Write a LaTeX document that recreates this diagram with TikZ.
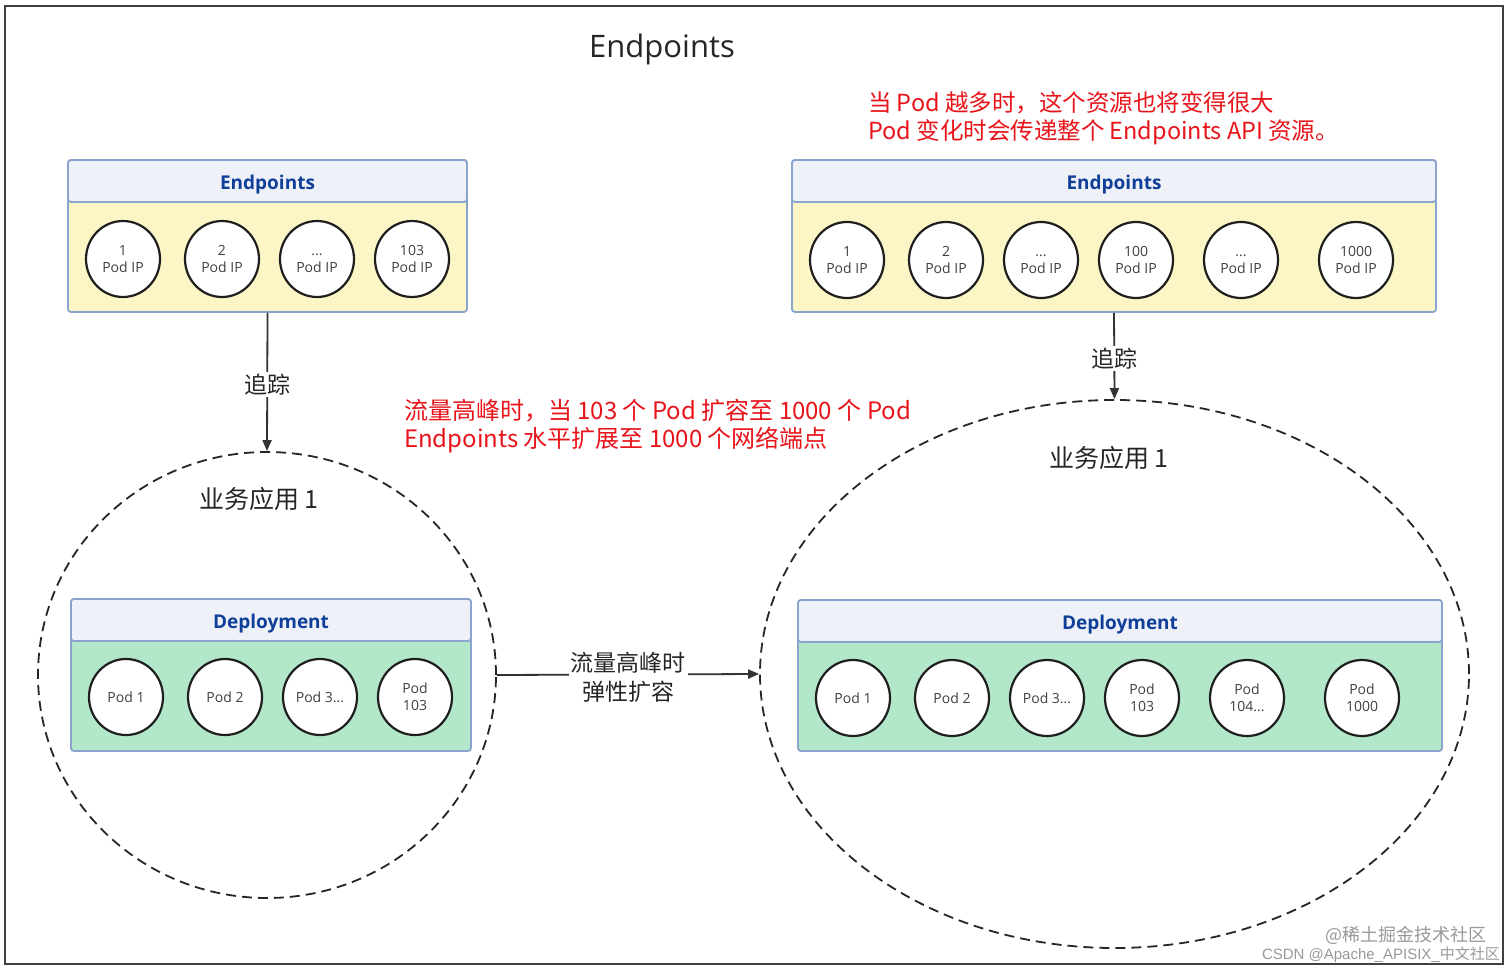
\documentclass[tikz,border=0pt]{standalone}
\usepackage{fontspec}
\setmainfont{Open Sans}
\newfontfamily\cjk{Noto Sans CJK SC}
\newfontfamily\wmfont{Liberation Sans}
\usetikzlibrary{arrows.meta,shapes.geometric}
\definecolor{boxline}{HTML}{8AA4CF}
\definecolor{hdrfill}{HTML}{EEF1F8}
\definecolor{epfill}{HTML}{FCF6C6}
\definecolor{depfill}{HTML}{B3E7C9}
\definecolor{hdrtext}{HTML}{0F3F98}
\definecolor{redtext}{HTML}{E8141A}
\definecolor{lineclr}{HTML}{333333}
\begin{document}
\begin{tikzpicture}[x=1pt,y=-1pt,
  bodybox/.style={draw=boxline, line width=1.8pt, rounded corners=3pt, inner sep=0pt},
  hdrbox/.style={draw=boxline, fill=hdrfill, line width=1.8pt, rounded corners=3pt, inner sep=0pt,
     minimum height=42pt, text height=18pt, text depth=2pt,
     font=\fontsize{19}{24}\selectfont\bfseries, text=hdrtext},
  pod/.style={draw=black!88, fill=white, line width=2.2pt, ellipse, inner sep=0pt,
     minimum width=74pt, minimum height=76pt, align=center, font=\fontsize{14}{17}\selectfont, text=black!75},
  app/.style={draw=black!85, line width=1.8pt, dash pattern=on 10pt off 6pt, ellipse, inner sep=0pt},
  arr/.style={draw=lineclr, line width=1.8pt, -{Triangle[length=11pt,width=9pt]}},
  lbl/.style={fill=white, inner sep=2pt, align=center, font=\cjk\fontsize{23}{29}\selectfont, text=black!85},
  applbl/.style={font=\cjk\fontsize{25}{30}\selectfont, text=black!85},
  redlbl/.style={anchor=west, text=redtext, inner sep=0pt, font=\cjk\fontsize{23.5}{29}\selectfont},
  wm/.style={anchor=east, text=black!40, inner sep=0pt}
]
\useasboundingbox (0,0) rectangle (1512,971);
\fill[white] (0,0) rectangle (1512,971);
\draw[line width=2.5pt, draw=black!75] (5,6) rectangle (1503,964);

% title
\node[font=\fontsize{31}{38}\selectfont, text=black!85] (title) at (662,49) {Endpoints};

% red notes
\node[redlbl] (note1) at (868,103) {当 Pod 越多时，这个资源也将变得很大};
\node[redlbl] (note2) at (868,132) {Pod 变化时会传递整个 Endpoints API 资源。};
\node[redlbl, font=\cjk\fontsize{24}{29}\selectfont] (note3) at (404,411) {流量高峰时，当 103 个 Pod 扩容至 1000 个 Pod};
\node[redlbl, font=\cjk\fontsize{24}{29}\selectfont] (note4) at (404,440) {Endpoints 水平扩展至 1000 个网络端点};

% left endpoints
\node[bodybox, fill=epfill, minimum width=399pt, minimum height=152pt] (ep1) at (267.5,236) {};
\node[hdrbox, minimum width=399pt, anchor=north] (ep1h) at (ep1.north) {Endpoints};
\node[pod] (e11) at (123,259) {1\\Pod IP};
\node[pod] (e12) at (222,259) {2\\Pod IP};
\node[pod] (e13) at (317,259) {\vphantom{1}...\\Pod IP};
\node[pod] (e14) at (412,259) {103\\Pod IP};

% right endpoints
\node[bodybox, fill=epfill, minimum width=644pt, minimum height=152pt] (ep2) at (1114,236) {};
\node[hdrbox, minimum width=644pt, anchor=north] (ep2h) at (ep2.north) {Endpoints};
\node[pod] (e21) at (847,260) {1\\Pod IP};
\node[pod] (e22) at (946,260) {2\\Pod IP};
\node[pod] (e23) at (1041,260) {\vphantom{1}...\\Pod IP};
\node[pod] (e24) at (1136,260) {100\\Pod IP};
\node[pod] (e25) at (1241,260) {\vphantom{1}...\\Pod IP};
\node[pod] (e26) at (1356,260) {1000\\Pod IP};

% dashed app ellipses
\node[app, minimum width=458pt, minimum height=446pt] (app1) at (267,675) {};
\node[app, minimum width=709pt, minimum height=548pt] (app2) at (1114.5,674) {};
\node[applbl] (app1l) at (259,499) {业务应用 1};
\node[applbl] (app2l) at (1109,458) {业务应用 1};

% left deployment
\node[bodybox, fill=depfill, minimum width=400pt, minimum height=152pt] (dp1) at (271,675) {};
\node[hdrbox, minimum width=400pt, anchor=north] (dp1h) at (dp1.north) {Deployment};
\node[pod] (d11) at (126,697) {Pod 1};
\node[pod] (d12) at (225,697) {Pod 2};
\node[pod] (d13) at (320,697) {Pod 3...};
\node[pod] (d14) at (415,697) {Pod\\103};

% right deployment
\node[bodybox, fill=depfill, minimum width=644pt, minimum height=151pt] (dp2) at (1120,675.5) {};
\node[hdrbox, minimum width=644pt, anchor=north] (dp2h) at (dp2.north) {Deployment};
\node[pod] (d21) at (853,698) {Pod 1};
\node[pod] (d22) at (952,698) {Pod 2};
\node[pod] (d23) at (1047,698) {Pod 3...};
\node[pod] (d24) at (1142,698) {Pod\\103};
\node[pod] (d25) at (1247,698) {Pod\\104...};
\node[pod] (d26) at (1362,698) {Pod\\1000};

% connectors
\draw[arr] (ep1.south) -- (app1.north) node[lbl, pos=0.52] {追踪};
\draw[arr] (ep2.south) -- (app2.north) node[lbl, pos=0.53] {追踪};
\draw[arr] (app1.east) -- (app2.west) node[lbl, midway, yshift=-3pt] {流量高峰时\\弹性扩容};

% watermark
\node[wm, font=\cjk\fontsize{18}{20}\selectfont] (wm1) at (1487,935) {@稀土掘金技术社区};
\node[wm, font=\wmfont\fontsize{15}{18}\selectfont] (wm2) at (1500,955) {CSDN @Apache\_APISIX\_{\cjk 中文社区}};
\end{tikzpicture}
\end{document}
